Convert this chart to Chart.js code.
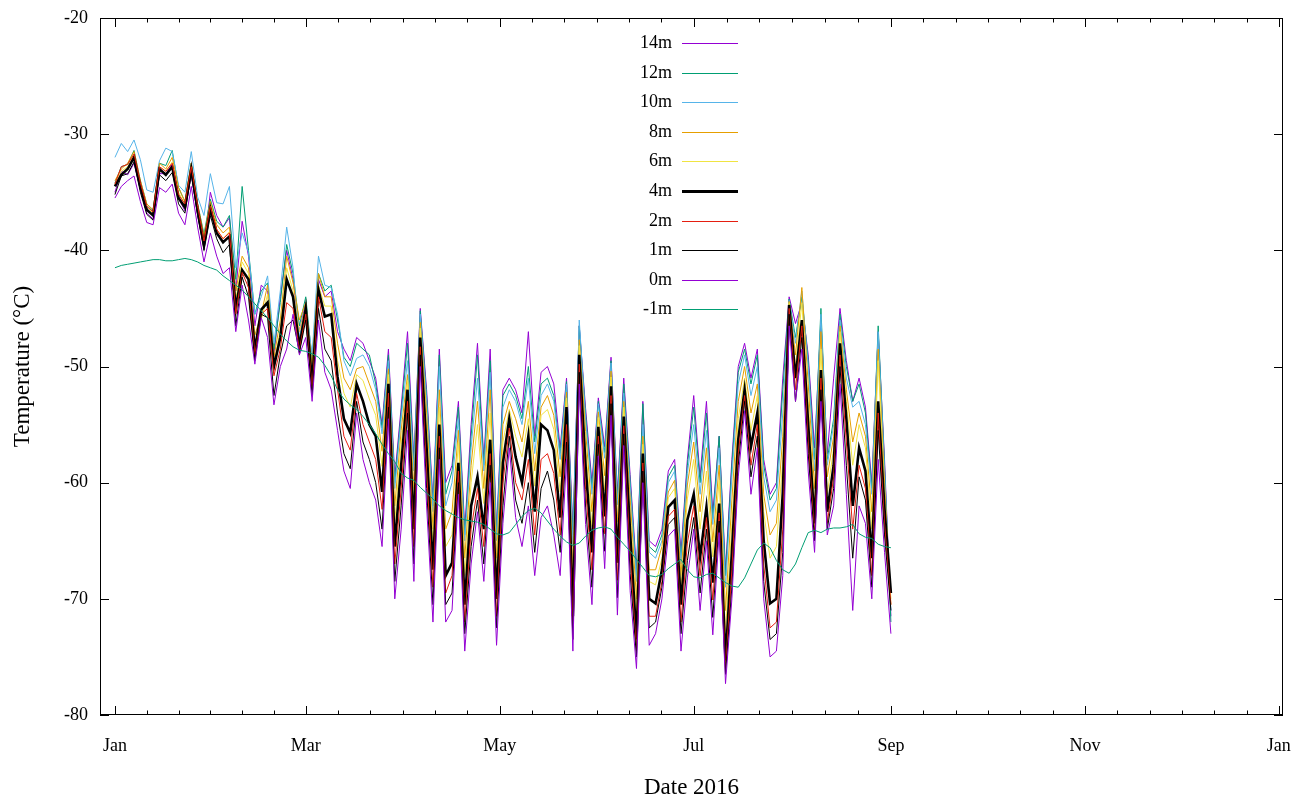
<!DOCTYPE html>
<html>
<head>
<meta charset="utf-8">
<title>Temperature 2016</title>
<script src="https://cdn.jsdelivr.net/npm/chart.js@4.4.1/dist/chart.umd.min.js"></script>
<style>
  html, body { margin: 0; padding: 0; background: #fff; }
  #wrap { width: 1302px; height: 804px; }
</style>
</head>
<body>
<div id="wrap"><canvas id="tempChart" width="1302" height="804"></canvas></div>
<script>
const seriesNames = ["14m", "12m", "10m", "8m", "6m", "4m", "2m", "1m", "0m", "-1m"];
const seriesColors = ["#9400d3", "#009e73", "#56b4e9", "#e69f00", "#f0e442", "#000000", "#e51e10", "#000000", "#9400d3", "#009e73"];
const seriesWidths = [1, 1, 1, 1, 1, 2.6, 1, 1, 1, 1];

const monthTickDays = [0, 60, 121, 182, 244, 305, 366];
const monthTickLabels = ["Jan", "Mar", "May", "Jul", "Sep", "Nov", "Jan"];
const tempTicks = [-80, -70, -60, -50, -40, -30, -20];

// every 2nd day of 2016, day 0 = 1 Jan, day 244 = 1 Sep
const sampleDays = [];
for (let d = 0; d <= 244; d += 2) sampleDays.push(d);

const t14m = [
  -35.0,-33.2,-33.5,-32.5,-34.8,-36.8,-37.3,-33.4,-33.4,-32.6,
  -35.5,-36.6,-33.5,-37.0,-39.8,-35.0,-37.0,-38.0,-37.2,-43.5,
  -37.5,-40.5,-46.5,-43.0,-43.5,-49.0,-44.0,-40.0,-42.5,-47.0,
  -44.5,-50.5,-42.5,-44.0,-43.5,-47.0,-48.5,-49.5,-47.5,-48.0,
  -49.5,-51.0,-55.0,-48.5,-59.5,-53.5,-47.0,-58.0,-45.0,-52.0,
  -61.5,-48.5,-60.0,-58.5,-53.0,-64.0,-55.0,-48.0,-58.0,-48.5,
  -64.0,-52.0,-51.0,-52.0,-54.0,-47.0,-56.0,-50.5,-50.0,-51.5,
  -57.0,-51.0,-64.0,-46.5,-53.6,-60.0,-52.7,-56.9,-49.2,-60.9,
  -51.0,-59.3,-67.5,-53.0,-65.0,-65.5,-64.0,-59.0,-58.0,-66.0,
  -58.0,-52.5,-59.5,-53.0,-62.6,-56.0,-67.5,-58.0,-50.0,-48.0,
  -51.0,-48.5,-58.0,-61.0,-60.0,-51.0,-44.0,-46.3,-44.5,-49.0,
  -57.0,-46.0,-57.5,-51.0,-45.0,-49.5,-53.0,-51.0,-53.5,-60.0,
  -47.0,-58.0,-71.5
];
const t12m = [
  -34.2,-32.8,-32.6,-31.4,-34.0,-36.0,-36.6,-32.5,-32.7,-31.4,
  -34.6,-35.8,-32.5,-36.0,-38.6,-35.6,-37.5,-38.0,-37.0,-42.5,
  -34.5,-40.0,-45.5,-43.5,-42.8,-48.5,-44.5,-39.5,-42.0,-46.5,
  -44.0,-49.5,-42.0,-43.5,-43.0,-46.0,-49.2,-50.0,-48.0,-48.5,
  -49.0,-51.5,-55.3,-49.0,-60.0,-54.0,-48.0,-58.5,-45.2,-52.5,
  -62.0,-49.0,-61.0,-59.0,-53.5,-64.5,-56.0,-49.0,-58.5,-49.5,
  -64.5,-52.5,-51.5,-52.5,-54.5,-50.0,-56.5,-51.5,-51.0,-52.5,
  -57.5,-51.3,-64.5,-46.5,-54.1,-60.5,-53.0,-57.4,-49.5,-61.4,
  -51.5,-59.8,-68.0,-53.2,-65.5,-66.0,-64.5,-59.5,-58.5,-66.5,
  -58.5,-53.5,-60.0,-54.0,-63.1,-56.0,-68.0,-58.5,-50.5,-48.5,
  -51.5,-49.0,-58.5,-61.5,-60.5,-52.0,-44.2,-47.5,-44.0,-49.5,
  -58.0,-45.0,-58.0,-54.5,-45.5,-50.0,-53.0,-51.5,-54.0,-60.5,
  -46.5,-58.5,-72.0
];
const t10m = [
  -32.0,-30.8,-31.5,-30.5,-32.2,-34.8,-35.0,-32.3,-31.2,-31.5,
  -34.4,-35.0,-31.5,-35.4,-37.0,-33.4,-35.9,-36.0,-34.5,-41.5,
  -38.5,-40.2,-45.5,-44.0,-42.2,-48.0,-43.5,-38.0,-41.5,-47.5,
  -44.8,-49.0,-40.5,-43.0,-43.2,-45.5,-49.5,-50.8,-49.3,-49.0,
  -50.0,-52.0,-55.8,-49.5,-60.5,-54.5,-49.5,-59.0,-45.5,-53.0,
  -62.5,-50.0,-62.0,-60.0,-54.5,-65.0,-57.0,-51.0,-59.0,-50.5,
  -65.0,-53.5,-52.0,-53.0,-55.0,-51.0,-57.5,-52.5,-51.5,-53.0,
  -58.0,-51.5,-65.5,-46.0,-54.6,-61.0,-53.2,-57.9,-49.7,-61.9,
  -52.3,-60.3,-68.5,-55.0,-66.0,-66.5,-65.0,-60.0,-59.0,-67.0,
  -59.2,-55.0,-61.0,-55.5,-63.6,-57.0,-69.0,-59.5,-51.5,-49.0,
  -52.5,-50.0,-59.5,-62.5,-61.5,-54.0,-44.3,-48.0,-43.5,-50.0,
  -59.0,-45.5,-58.5,-55.0,-46.0,-51.0,-53.5,-53.0,-55.0,-61.0,
  -47.0,-59.0,-71.0
];
const t8m = [
  -34.0,-33.0,-32.5,-31.5,-34.0,-36.0,-36.5,-32.5,-33.0,-32.0,
  -34.6,-35.8,-32.5,-36.0,-38.8,-35.8,-37.8,-38.5,-38.0,-43.5,
  -40.5,-41.5,-47.3,-45.5,-43.0,-49.2,-46.0,-40.5,-42.8,-46.0,
  -44.5,-50.0,-42.0,-44.0,-44.0,-48.0,-51.0,-52.0,-50.2,-50.0,
  -51.5,-53.0,-57.3,-50.2,-62.0,-55.5,-50.7,-60.5,-46.2,-54.0,
  -64.0,-52.0,-64.0,-62.5,-55.5,-66.5,-58.5,-53.0,-60.5,-52.0,
  -66.5,-55.0,-53.0,-54.5,-56.5,-53.0,-59.0,-53.5,-52.5,-54.2,
  -59.5,-52.2,-67.5,-47.7,-55.6,-62.5,-53.9,-59.4,-50.4,-63.4,
  -53.0,-61.3,-70.0,-56.0,-67.5,-67.5,-65.5,-60.8,-59.8,-68.0,
  -60.2,-56.5,-62.5,-57.0,-65.1,-58.5,-71.0,-61.5,-53.0,-50.0,
  -54.0,-51.5,-61.0,-64.5,-63.5,-56.0,-44.4,-49.0,-43.2,-51.5,
  -60.5,-47.0,-59.5,-56.0,-46.5,-52.0,-56.5,-54.0,-56.0,-62.5,
  -48.5,-60.0,-70.5
];
const t6m = [
  -34.3,-33.2,-32.8,-31.8,-34.2,-36.2,-36.8,-32.8,-33.2,-32.4,
  -35.0,-36.0,-32.8,-36.2,-39.2,-36.0,-38.2,-39.0,-38.4,-44.2,
  -41.0,-42.0,-48.0,-46.0,-43.8,-49.8,-46.8,-41.5,-43.5,-47.0,
  -44.8,-51.0,-43.0,-44.8,-44.8,-49.5,-52.3,-53.5,-50.7,-51.2,
  -52.8,-54.2,-58.6,-50.7,-63.3,-56.7,-51.2,-61.8,-46.7,-55.2,
  -65.3,-53.5,-65.5,-64.5,-56.5,-68.0,-60.0,-55.0,-61.8,-54.0,
  -67.8,-56.5,-53.7,-56.0,-57.8,-54.5,-60.3,-54.2,-53.7,-55.4,
  -60.8,-52.7,-69.3,-48.2,-56.8,-63.8,-54.4,-60.7,-50.9,-64.7,
  -53.5,-62.5,-71.3,-56.7,-68.5,-68.8,-66.5,-61.3,-60.5,-69.0,
  -61.4,-58.0,-64.0,-59.0,-66.4,-59.8,-72.8,-63.5,-54.5,-51.0,
  -55.5,-52.5,-62.5,-66.5,-65.5,-58.0,-44.5,-50.0,-44.5,-53.0,
  -62.0,-48.5,-61.0,-57.0,-47.0,-53.0,-58.5,-55.0,-57.0,-64.0,
  -49.5,-61.0,-70.0
];
const t4m = [
  -34.5,-33.5,-33.0,-32.0,-34.5,-36.5,-37.0,-33.0,-33.5,-32.8,
  -35.5,-36.3,-33.0,-36.5,-39.5,-36.4,-38.5,-39.3,-38.8,-45.0,
  -41.7,-42.5,-48.6,-45.1,-44.5,-50.0,-47.5,-42.5,-44.0,-48.3,
  -45.0,-51.4,-43.4,-45.7,-45.5,-50.9,-54.5,-55.7,-51.5,-53.0,
  -55.0,-56.0,-60.8,-51.5,-65.5,-58.5,-52.0,-64.0,-47.5,-57.0,
  -67.5,-55.0,-68.0,-66.9,-58.3,-70.5,-62.0,-59.5,-64.0,-56.3,
  -70.0,-58.3,-54.5,-57.8,-60.0,-56.0,-62.5,-55.0,-55.5,-57.2,
  -63.0,-53.5,-71.5,-49.0,-58.6,-66.0,-55.2,-62.9,-51.7,-66.9,
  -54.3,-64.3,-73.5,-57.5,-70.0,-70.4,-67.5,-62.1,-61.5,-70.5,
  -63.2,-61.0,-66.4,-62.1,-68.6,-61.8,-75.3,-66.0,-56.3,-52.0,
  -56.9,-54.0,-65.0,-70.4,-70.0,-60.9,-44.7,-51.0,-46.0,-55.0,
  -63.5,-50.3,-62.5,-58.5,-48.0,-54.5,-62.0,-57.0,-59.0,-66.5,
  -53.0,-62.3,-69.5
];
const t2m = [
  -34.3,-32.8,-32.6,-31.7,-34.2,-36.2,-36.7,-32.8,-33.2,-32.5,
  -35.2,-36.0,-32.8,-36.2,-39.2,-36.2,-38.2,-39.0,-38.5,-45.5,
  -41.9,-43.2,-49.0,-45.5,-45.0,-50.8,-48.5,-44.5,-45.0,-48.6,
  -45.5,-52.0,-44.0,-47.0,-47.5,-52.0,-56.0,-57.2,-52.3,-55.0,
  -56.5,-58.0,-62.3,-52.3,-67.0,-60.5,-53.0,-65.5,-48.3,-59.0,
  -69.0,-56.0,-69.5,-68.0,-59.0,-72.0,-64.0,-60.5,-65.5,-57.5,
  -71.5,-60.0,-55.3,-60.0,-61.5,-58.0,-64.5,-58.0,-57.5,-59.2,
  -64.5,-55.0,-72.5,-49.8,-60.6,-67.5,-56.0,-64.4,-52.5,-68.4,
  -55.1,-66.3,-74.5,-58.3,-71.5,-71.5,-68.5,-62.9,-62.3,-72.0,
  -65.2,-62.0,-68.0,-63.0,-70.1,-62.6,-76.0,-67.5,-57.5,-52.5,
  -58.5,-55.0,-67.0,-72.5,-72.0,-64.0,-45.0,-52.0,-46.5,-56.5,
  -64.5,-51.0,-63.5,-59.5,-49.0,-56.5,-64.0,-58.5,-60.5,-68.0,
  -54.0,-63.5,-70.5
];
const t1m = [
  -35.2,-33.6,-33.4,-32.4,-35.0,-36.9,-37.4,-33.5,-34.0,-33.3,
  -36.0,-36.8,-33.4,-37.0,-40.0,-37.0,-39.0,-40.2,-39.5,-46.5,
  -42.3,-44.0,-49.5,-45.5,-45.8,-52.5,-49.0,-46.5,-46.0,-48.8,
  -46.0,-52.5,-45.0,-48.5,-49.5,-54.0,-57.5,-58.8,-53.0,-56.5,
  -58.0,-60.0,-64.0,-53.5,-68.5,-62.0,-54.0,-67.0,-49.0,-60.5,
  -70.5,-57.0,-70.5,-69.5,-60.0,-73.0,-65.5,-61.5,-67.0,-58.5,
  -72.5,-62.0,-56.0,-61.5,-63.5,-60.0,-66.0,-60.5,-59.0,-61.5,
  -66.0,-56.5,-73.5,-50.5,-62.1,-69.0,-56.7,-65.9,-53.2,-69.9,
  -55.8,-67.8,-75.0,-59.0,-72.5,-72.0,-69.0,-63.6,-63.0,-73.0,
  -66.7,-63.0,-69.5,-64.0,-71.6,-63.3,-76.5,-69.0,-58.5,-53.0,
  -59.5,-56.0,-68.5,-73.5,-73.0,-66.0,-45.5,-53.0,-47.5,-57.5,
  -65.0,-52.0,-64.0,-60.5,-50.0,-58.5,-66.5,-59.5,-61.5,-69.0,
  -55.5,-64.5,-71.0
];
const t0m = [
  -35.5,-34.5,-34.0,-33.6,-35.8,-37.6,-37.8,-34.6,-35.0,-34.3,
  -36.8,-37.8,-34.5,-38.0,-41.0,-38.5,-40.5,-42.0,-41.5,-47.0,
  -43.0,-46.0,-49.8,-45.8,-47.5,-53.3,-50.0,-48.5,-45.5,-49.0,
  -47.5,-53.0,-46.0,-50.5,-52.0,-55.5,-59.0,-60.5,-54.0,-58.0,
  -60.0,-61.5,-65.5,-54.5,-70.0,-64.0,-55.5,-68.5,-50.0,-62.0,
  -72.0,-58.0,-72.0,-71.0,-61.0,-74.5,-67.0,-62.5,-68.5,-60.0,
  -74.0,-63.5,-57.0,-63.0,-65.5,-62.0,-68.0,-63.0,-62.0,-64.5,
  -68.0,-58.0,-74.5,-51.5,-63.6,-70.5,-57.7,-67.4,-54.2,-71.4,
  -56.8,-69.3,-76.0,-60.0,-74.0,-73.0,-70.0,-64.6,-64.0,-74.5,
  -68.2,-64.0,-71.0,-65.0,-73.1,-64.3,-77.3,-70.0,-59.5,-53.8,
  -61.0,-57.0,-70.0,-75.0,-74.5,-68.0,-46.5,-53.0,-48.5,-59.0,
  -66.0,-53.0,-64.5,-62.0,-51.5,-61.0,-71.0,-62.0,-63.5,-70.0,
  -58.0,-66.0,-73.0
];
const tMinus1m = [
  -41.5,-41.3,-41.2,-41.1,-41.0,-40.9,-40.8,-40.8,-40.9,-40.9,
  -40.8,-40.7,-40.8,-41.0,-41.3,-41.5,-41.7,-42.2,-42.6,-43.0,
  -43.4,-44.0,-44.6,-45.2,-45.8,-46.5,-47.2,-47.8,-48.3,-48.6,
  -48.7,-48.9,-49.2,-49.9,-50.8,-52.0,-52.8,-53.3,-53.7,-54.3,
  -55.0,-55.8,-56.7,-57.5,-58.2,-59.2,-59.6,-59.8,-60.4,-60.9,
  -61.4,-62.0,-62.4,-62.7,-63.0,-63.2,-63.3,-63.4,-63.6,-64.0,
  -64.4,-64.5,-64.3,-63.6,-62.9,-62.4,-62.2,-62.6,-63.3,-64.0,
  -64.6,-65.1,-65.4,-65.2,-64.6,-64.1,-63.9,-63.8,-64.0,-64.7,
  -65.3,-65.9,-66.6,-67.3,-68.0,-68.1,-67.9,-67.4,-67.0,-66.6,
  -67.5,-68.1,-68.2,-67.9,-67.8,-68.2,-68.6,-68.9,-69.0,-68.2,
  -67.0,-65.8,-65.2,-65.6,-66.7,-67.5,-67.8,-67.0,-65.6,-64.3,
  -64.1,-64.3,-64.0,-63.9,-63.9,-63.8,-63.6,-64.4,-64.7,-64.8,
  -65.3,-65.5,-65.6
];

const allSeries = [t14m, t12m, t10m, t8m, t6m, t4m, t2m, t1m, t0m, tMinus1m];

// gnuplot draws later curves on top, so give them a lower order
const datasets = seriesNames.map((name, i) => ({
  label: name,
  data: sampleDays.map((d, j) => ({ x: d, y: allSeries[i][j] })),
  borderColor: seriesColors[i],
  borderWidth: seriesWidths[i],
  pointRadius: 0,
  fill: false,
  tension: 0,
  order: seriesNames.length - 1 - i
}));

Chart.defaults.font.family = "'Liberation Serif', 'Times New Roman', serif";
Chart.defaults.font.size = 18;
Chart.defaults.color = "#000";

// frame, inward ticks on all four sides, and the key inside the plot
const gnuplotFrame = {
  id: "gnuplotFrame",
  afterDatasetsDraw(chart) {
    const { ctx, chartArea: area, scales: { x, y } } = chart;
    ctx.save();
    ctx.strokeStyle = "#000";
    ctx.lineWidth = 1;
    ctx.beginPath();
    monthTickDays.forEach((day, i) => {
      let px = Math.round(x.getPixelForValue(day)) + 0.5;
      ctx.moveTo(px, area.bottom); ctx.lineTo(px, area.bottom - 9);
      ctx.moveTo(px, area.top); ctx.lineTo(px, area.top + 9);
      if (i < monthTickDays.length - 1) {
        let next = monthTickDays[i + 1];
        for (let m = 1; m < 6; m++) {
          let mx = Math.round(x.getPixelForValue(day + (next - day) * m / 6)) + 0.5;
          ctx.moveTo(mx, area.bottom); ctx.lineTo(mx, area.bottom - 4.5);
          ctx.moveTo(mx, area.top); ctx.lineTo(mx, area.top + 4.5);
        }
      }
    });
    tempTicks.forEach(v => {
      let py = Math.round(y.getPixelForValue(v)) + 0.5;
      ctx.moveTo(area.left, py); ctx.lineTo(area.left + 9, py);
      ctx.moveTo(area.right, py); ctx.lineTo(area.right - 9, py);
    });
    ctx.stroke();
    ctx.strokeRect(Math.round(area.left) + 0.5, Math.round(area.top) + 0.5,
                   Math.round(area.width) - 1, Math.round(area.height) - 1);

    // key: label right-aligned, sample line to its right
    ctx.font = "18px 'Liberation Serif', serif";
    ctx.textAlign = "right";
    ctx.textBaseline = "middle";
    seriesNames.forEach((name, i) => {
      let ly = Math.round(area.top + 25 + i * 29.6);
      ctx.fillStyle = "#000";
      ctx.fillText(name, area.left + 572, ly);
      let h = seriesWidths[i] > 1 ? 3 : 1;
      ctx.fillStyle = seriesColors[i];
      ctx.fillRect(area.left + 582, ly - Math.floor(h / 2), 56, h);
    });
    ctx.restore();
  }
};

new Chart(document.getElementById("tempChart"), {
  type: "line",
  data: { datasets },
  options: {
    responsive: false,
    animation: false,
    layout: { padding: { top: 18, right: 19, left: 0, bottom: 0 } },
    plugins: { legend: { display: false }, tooltip: { enabled: false } },
    scales: {
      x: {
        type: "linear",
        min: -4.7,
        max: 367.3,
        grid: { display: false, drawTicks: false },
        border: { display: false },
        afterBuildTicks: scale => { scale.ticks = monthTickDays.map(v => ({ value: v })); },
        ticks: { padding: 20, autoSkip: false, maxRotation: 0, callback: (v, i) => monthTickLabels[i] },
        title: { display: true, text: "Date 2016", font: { size: 23 }, padding: { top: 0, bottom: 2 } },
        afterFit: scale => {
          scale.height = 89;
          scale.paddingLeft = 0;
          scale.paddingRight = 0;
        }
      },
      y: {
        type: "linear",
        min: -80,
        max: -20,
        grid: { display: false, drawTicks: false },
        border: { display: false },
        afterBuildTicks: scale => { scale.ticks = tempTicks.map(v => ({ value: v })); },
        ticks: { padding: 12, callback: v => String(v) },
        title: { display: true, text: "Temperature (°C)", font: { size: 23 }, padding: { top: 9, bottom: 0 } },
        afterFit: scale => {
          scale.width = 100;
          scale.paddingTop = 0;
          scale.paddingBottom = 0;
        }
      }
    }
  },
  plugins: [gnuplotFrame]
});
</script>
</body>
</html>
